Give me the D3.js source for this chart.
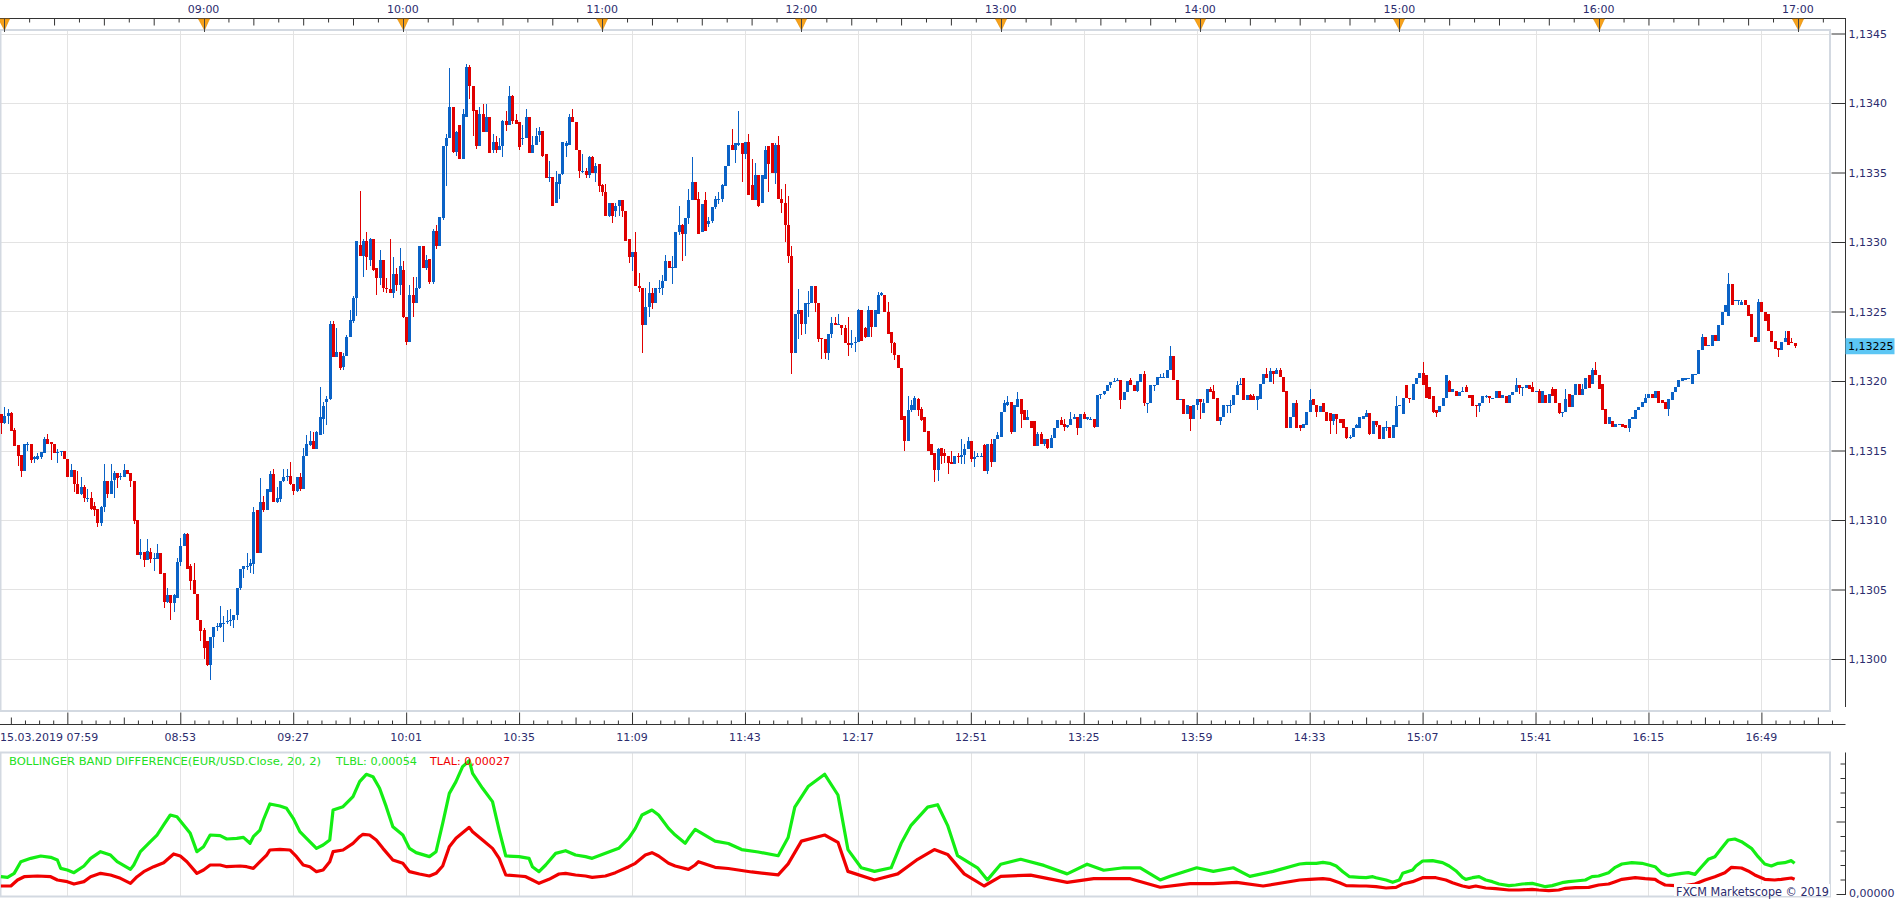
<!DOCTYPE html>
<html>
<head>
<meta charset="utf-8">
<script src="https://cdn.jsdelivr.net/npm/d3@7"></script>
<style>
  html, body { margin: 0; padding: 0; background: #fff; }
  svg { display: block; font-family: 'DejaVu Sans', Verdana, sans-serif; }
</style>
</head>
<body>
<div id="chart"></div>
<script>
// EUR/USD 1-minute candles, 15.03.2019 07:59 .. 17:00
var openPrices = [
1.13176,1.13170,1.13175,1.13177,1.13165,1.13154,1.13147,1.13135,1.13154,1.13155,
1.13144,1.13144,1.13145,1.13148,1.13158,1.13156,1.13155,1.13148,1.13149,1.13150,
1.13144,1.13131,1.13136,1.13126,1.13119,1.13124,1.13116,1.13116,1.13110,1.13108,
1.13098,1.13109,1.13128,1.13119,1.13129,1.13134,1.13131,1.13131,1.13136,1.13134,
1.13128,1.13100,1.13075,1.13077,1.13071,1.13077,1.13072,1.13072,1.13076,1.13062,
1.13041,1.13046,1.13040,1.13044,1.13070,1.13081,1.13090,1.13067,1.13057,1.13047,
1.13028,1.13021,1.13013,1.12996,1.13016,1.13023,1.13023,1.13025,1.13027,1.13027,
1.13028,1.13032,1.13051,1.13065,1.13067,1.13067,1.13068,1.13107,1.13076,1.13113,
1.13107,1.13120,1.13133,1.13113,1.13115,1.13128,1.13131,1.13132,1.13126,1.13121,
1.13131,1.13122,1.13146,1.13154,1.13157,1.13151,1.13161,1.13173,1.13185,1.13187,
1.13241,1.13217,1.13221,1.13210,1.13218,1.13232,1.13243,1.13260,1.13298,1.13290,
1.13301,1.13287,1.13302,1.13281,1.13274,1.13287,1.13267,1.13266,1.13263,1.13277,
1.13269,1.13280,1.13246,1.13228,1.13262,1.13256,1.13267,1.13297,1.13281,1.13288,
1.13271,1.13308,1.13297,1.13317,1.13369,1.13375,1.13397,1.13365,1.13384,1.13360,
1.13390,1.13426,1.13412,1.13395,1.13369,1.13392,1.13379,1.13390,1.13366,1.13372,
1.13366,1.13369,1.13387,1.13384,1.13405,1.13388,1.13386,1.13374,1.13375,1.13390,
1.13364,1.13370,1.13377,1.13380,1.13363,1.13346,1.13347,1.13328,1.13342,1.13349,
1.13369,1.13370,1.13390,1.13386,1.13366,1.13351,1.13351,1.13348,1.13361,1.13350,
1.13356,1.13341,1.13336,1.13319,1.13328,1.13322,1.13326,1.13330,1.13322,1.13302,
1.13289,1.13293,1.13268,1.13267,1.13240,1.13253,1.13263,1.13256,1.13267,1.13267,
1.13272,1.13286,1.13281,1.13281,1.13307,1.13312,1.13306,1.13317,1.13330,1.13343,
1.13331,1.13307,1.13330,1.13313,1.13315,1.13325,1.13330,1.13331,1.13340,1.13355,
1.13370,1.13366,1.13370,1.13371,1.13363,1.13372,1.13341,1.13330,1.13348,1.13328,
1.13345,1.13369,1.13371,1.13350,1.13370,1.13331,1.13328,1.13312,1.13290,1.13220,
1.13248,1.13251,1.13241,1.13256,1.13256,1.13268,1.13256,1.13231,1.13230,1.13220,
1.13234,1.13242,1.13240,1.13240,1.13238,1.13227,1.13226,1.13227,1.13228,1.13251,
1.13238,1.13232,1.13251,1.13239,1.13248,1.13262,1.13262,1.13250,1.13235,1.13227,
1.13219,1.13209,1.13175,1.13157,1.13179,1.13179,1.13187,1.13180,1.13174,1.13164,
1.13155,1.13148,1.13136,1.13152,1.13148,1.13146,1.13142,1.13140,1.13146,1.13145,
1.13147,1.13151,1.13157,1.13144,1.13145,1.13146,1.13154,1.13135,1.13155,1.13142,
1.13158,1.13160,1.13178,1.13183,1.13185,1.13163,1.13181,1.13187,1.13179,1.13172,
1.13171,1.13171,1.13153,1.13162,1.13155,1.13158,1.13152,1.13159,1.13166,1.13172,
1.13169,1.13167,1.13168,1.13173,1.13174,1.13166,1.13176,1.13173,1.13173,1.13173,
1.13167,1.13190,1.13191,1.13193,1.13197,1.13199,1.13200,1.13201,1.13186,1.13192,
1.13201,1.13197,1.13193,1.13199,1.13205,1.13184,1.13184,1.13197,1.13197,1.13203,
1.13203,1.13202,1.13208,1.13218,1.13201,1.13186,1.13187,1.13176,1.13182,1.13173,
1.13183,1.13187,1.13177,1.13184,1.13194,1.13193,1.13188,1.13171,1.13174,1.13183,
1.13183,1.13183,1.13190,1.13197,1.13202,1.13186,1.13190,1.13189,1.13186,1.13187,
1.13198,1.13205,1.13199,1.13207,1.13205,1.13208,1.13203,1.13193,1.13166,1.13174,
1.13184,1.13168,1.13166,1.13168,1.13178,1.13187,1.13183,1.13178,1.13184,1.13178,
1.13177,1.13171,1.13176,1.13173,1.13173,1.13167,1.13160,1.13160,1.13166,1.13166,
1.13173,1.13174,1.13177,1.13162,1.13171,1.13168,1.13158,1.13167,1.13167,1.13159,
1.13167,1.13182,1.13176,1.13197,1.13188,1.13186,1.13198,1.13202,1.13206,1.13204,
1.13196,1.13189,1.13179,1.13178,1.13182,1.13188,1.13200,1.13192,1.13193,1.13189,
1.13192,1.13196,1.13190,1.13190,1.13183,1.13182,1.13184,1.13189,1.13189,1.13188,
1.13188,1.13193,1.13188,1.13189,1.13184,1.13190,1.13192,1.13197,1.13195,1.13195,
1.13197,1.13196,1.13192,1.13193,1.13184,1.13190,1.13184,1.13194,1.13194,1.13184,
1.13177,1.13178,1.13191,1.13181,1.13190,1.13198,1.13190,1.13194,1.13204,1.13198,
1.13208,1.13204,1.13198,1.13180,1.13169,1.13171,1.13167,1.13168,1.13169,1.13168,
1.13166,1.13173,1.13173,1.13179,1.13181,1.13184,1.13188,1.13191,1.13188,1.13193,
1.13186,1.13185,1.13180,1.13186,1.13192,1.13196,1.13200,1.13201,1.13202,1.13198,
1.13205,1.13205,1.13222,1.13232,1.13225,1.13225,1.13233,1.13229,1.13240,1.13250,
1.13247,1.13270,1.13258,1.13258,1.13255,1.13258,1.13255,1.13248,1.13232,1.13228,
1.13257,1.13250,1.13248,1.13236,1.13229,1.13224,1.13222,1.13228,1.13236,1.13228,1.13227
]
var highPrices = [
1.13176,1.13181,1.13180,1.13178,1.13166,1.13154,1.13147,1.13155,1.13156,1.13155,
1.13146,1.13148,1.13149,1.13160,1.13162,1.13156,1.13155,1.13151,1.13150,1.13150,
1.13144,1.13140,1.13136,1.13135,1.13131,1.13125,1.13122,1.13120,1.13113,1.13108,
1.13110,1.13140,1.13128,1.13140,1.13135,1.13134,1.13134,1.13140,1.13136,1.13134,
1.13128,1.13100,1.13086,1.13077,1.13086,1.13080,1.13076,1.13083,1.13076,1.13062,
1.13051,1.13046,1.13047,1.13073,1.13087,1.13091,1.13091,1.13068,1.13069,1.13047,
1.13028,1.13022,1.13013,1.13016,1.13023,1.13026,1.13038,1.13031,1.13035,1.13036,
1.13032,1.13051,1.13065,1.13067,1.13076,1.13072,1.13109,1.13107,1.13130,1.13117,
1.13122,1.13135,1.13137,1.13124,1.13128,1.13137,1.13137,1.13142,1.13126,1.13131,
1.13134,1.13152,1.13161,1.13164,1.13163,1.13164,1.13196,1.13185,1.13189,1.13243,
1.13243,1.13238,1.13221,1.13220,1.13233,1.13251,1.13261,1.13301,1.13337,1.13302,
1.13307,1.13303,1.13302,1.13281,1.13294,1.13287,1.13274,1.13302,1.13289,1.13281,
1.13296,1.13286,1.13246,1.13269,1.13275,1.13275,1.13297,1.13297,1.13291,1.13288,
1.13309,1.13312,1.13318,1.13369,1.13378,1.13425,1.13397,1.13380,1.13384,1.13396,
1.13428,1.13427,1.13412,1.13395,1.13397,1.13399,1.13399,1.13390,1.13378,1.13376,
1.13375,1.13388,1.13394,1.13412,1.13406,1.13392,1.13386,1.13384,1.13396,1.13390,
1.13376,1.13382,1.13383,1.13380,1.13363,1.13358,1.13347,1.13351,1.13349,1.13372,
1.13373,1.13392,1.13396,1.13386,1.13366,1.13363,1.13353,1.13362,1.13362,1.13357,
1.13356,1.13342,1.13342,1.13328,1.13328,1.13328,1.13330,1.13330,1.13322,1.13302,
1.13293,1.13307,1.13278,1.13267,1.13267,1.13271,1.13267,1.13267,1.13273,1.13276,
1.13291,1.13286,1.13290,1.13307,1.13326,1.13313,1.13317,1.13338,1.13361,1.13343,
1.13336,1.13327,1.13336,1.13318,1.13325,1.13333,1.13336,1.13342,1.13355,1.13370,
1.13381,1.13371,1.13394,1.13371,1.13372,1.13378,1.13360,1.13357,1.13348,1.13348,
1.13369,1.13369,1.13371,1.13371,1.13376,1.13338,1.13342,1.13333,1.13297,1.13248,
1.13266,1.13251,1.13256,1.13265,1.13268,1.13268,1.13256,1.13231,1.13230,1.13234,
1.13246,1.13246,1.13248,1.13240,1.13240,1.13246,1.13237,1.13232,1.13252,1.13251,
1.13239,1.13254,1.13251,1.13251,1.13264,1.13264,1.13262,1.13257,1.13235,1.13228,
1.13219,1.13209,1.13175,1.13189,1.13186,1.13189,1.13188,1.13181,1.13174,1.13164,
1.13155,1.13148,1.13152,1.13152,1.13151,1.13146,1.13150,1.13146,1.13148,1.13158,
1.13155,1.13160,1.13157,1.13150,1.13148,1.13148,1.13155,1.13155,1.13158,1.13158,
1.13163,1.13178,1.13186,1.13189,1.13185,1.13183,1.13192,1.13187,1.13179,1.13179,
1.13171,1.13171,1.13163,1.13163,1.13158,1.13158,1.13161,1.13166,1.13172,1.13174,
1.13173,1.13168,1.13178,1.13176,1.13174,1.13176,1.13178,1.13174,1.13174,1.13173,
1.13190,1.13191,1.13193,1.13197,1.13199,1.13202,1.13202,1.13201,1.13192,1.13200,
1.13202,1.13197,1.13200,1.13205,1.13207,1.13184,1.13197,1.13197,1.13203,1.13205,
1.13206,1.13208,1.13225,1.13218,1.13201,1.13187,1.13187,1.13183,1.13182,1.13183,
1.13187,1.13187,1.13187,1.13194,1.13196,1.13197,1.13188,1.13174,1.13183,1.13183,
1.13186,1.13190,1.13200,1.13202,1.13202,1.13190,1.13191,1.13191,1.13189,1.13198,
1.13205,1.13209,1.13209,1.13207,1.13209,1.13209,1.13203,1.13193,1.13174,1.13184,
1.13186,1.13168,1.13169,1.13178,1.13194,1.13187,1.13183,1.13182,1.13184,1.13178,
1.13177,1.13176,1.13176,1.13173,1.13173,1.13167,1.13161,1.13166,1.13169,1.13174,
1.13175,1.13179,1.13177,1.13171,1.13171,1.13168,1.13167,1.13171,1.13167,1.13168,
1.13189,1.13183,1.13188,1.13197,1.13188,1.13198,1.13202,1.13206,1.13214,1.13204,
1.13196,1.13189,1.13179,1.13182,1.13188,1.13204,1.13201,1.13194,1.13193,1.13192,
1.13196,1.13197,1.13190,1.13190,1.13183,1.13184,1.13189,1.13190,1.13189,1.13188,
1.13193,1.13193,1.13190,1.13189,1.13190,1.13192,1.13202,1.13197,1.13196,1.13197,
1.13197,1.13199,1.13193,1.13194,1.13193,1.13190,1.13191,1.13196,1.13194,1.13184,
1.13178,1.13194,1.13191,1.13190,1.13198,1.13198,1.13198,1.13202,1.13204,1.13209,
1.13214,1.13204,1.13198,1.13180,1.13174,1.13171,1.13169,1.13169,1.13169,1.13168,
1.13173,1.13174,1.13179,1.13181,1.13185,1.13191,1.13191,1.13191,1.13193,1.13193,
1.13186,1.13185,1.13187,1.13192,1.13196,1.13201,1.13202,1.13202,1.13202,1.13205,
1.13205,1.13222,1.13234,1.13232,1.13226,1.13233,1.13233,1.13240,1.13250,1.13255,
1.13278,1.13270,1.13258,1.13258,1.13258,1.13258,1.13255,1.13248,1.13232,1.13259,
1.13257,1.13250,1.13248,1.13236,1.13229,1.13224,1.13228,1.13236,1.13236,1.13231,1.13227
]
var lowPrices = [
1.13162,1.13169,1.13169,1.13164,1.13153,1.13139,1.13131,1.13135,1.13150,1.13141,
1.13141,1.13143,1.13144,1.13148,1.13155,1.13143,1.13148,1.13141,1.13146,1.13144,
1.13131,1.13131,1.13120,1.13119,1.13118,1.13113,1.13113,1.13107,1.13103,1.13095,
1.13096,1.13106,1.13116,1.13119,1.13116,1.13123,1.13129,1.13131,1.13133,1.13124,
1.13097,1.13075,1.13072,1.13066,1.13071,1.13069,1.13063,1.13072,1.13061,1.13037,
1.13040,1.13028,1.13034,1.13044,1.13067,1.13081,1.13065,1.13050,1.13047,1.13028,
1.13013,1.13000,1.12995,1.12985,1.13008,1.13020,1.13022,1.13012,1.13025,1.13024,
1.13022,1.13028,1.13050,1.13058,1.13064,1.13062,1.13061,1.13076,1.13076,1.13106,
1.13107,1.13120,1.13113,1.13112,1.13113,1.13127,1.13128,1.13125,1.13118,1.13120,
1.13121,1.13122,1.13146,1.13153,1.13151,1.13151,1.13161,1.13162,1.13168,1.13186,
1.13217,1.13217,1.13208,1.13208,1.13218,1.13232,1.13242,1.13247,1.13290,1.13275,
1.13280,1.13283,1.13279,1.13262,1.13269,1.13264,1.13263,1.13263,1.13260,1.13265,
1.13262,1.13245,1.13226,1.13228,1.13246,1.13256,1.13266,1.13281,1.13280,1.13270,
1.13270,1.13295,1.13297,1.13316,1.13340,1.13375,1.13364,1.13362,1.13360,1.13360,
1.13390,1.13403,1.13376,1.13367,1.13369,1.13379,1.13379,1.13364,1.13364,1.13364,
1.13366,1.13361,1.13380,1.13384,1.13385,1.13385,1.13366,1.13370,1.13375,1.13364,
1.13364,1.13370,1.13372,1.13361,1.13346,1.13343,1.13326,1.13328,1.13331,1.13348,
1.13361,1.13370,1.13386,1.13366,1.13346,1.13350,1.13346,1.13346,1.13350,1.13343,
1.13336,1.13333,1.13319,1.13318,1.13314,1.13318,1.13319,1.13318,1.13301,1.13285,
1.13279,1.13268,1.13264,1.13220,1.13240,1.13246,1.13252,1.13256,1.13263,1.13262,
1.13272,1.13281,1.13270,1.13281,1.13305,1.13286,1.13290,1.13313,1.13330,1.13330,
1.13306,1.13307,1.13308,1.13311,1.13314,1.13324,1.13327,1.13329,1.13340,1.13355,
1.13366,1.13357,1.13369,1.13343,1.13360,1.13334,1.13330,1.13330,1.13325,1.13328,
1.13345,1.13336,1.13350,1.13342,1.13331,1.13321,1.13300,1.13285,1.13205,1.13220,
1.13230,1.13233,1.13234,1.13246,1.13256,1.13250,1.13228,1.13216,1.13216,1.13215,
1.13231,1.13240,1.13240,1.13233,1.13227,1.13218,1.13224,1.13221,1.13228,1.13229,
1.13231,1.13232,1.13232,1.13239,1.13248,1.13261,1.13250,1.13234,1.13220,1.13215,
1.13209,1.13172,1.13150,1.13157,1.13178,1.13179,1.13175,1.13171,1.13163,1.13150,
1.13147,1.13127,1.13128,1.13140,1.13141,1.13133,1.13140,1.13140,1.13141,1.13140,
1.13140,1.13151,1.13142,1.13138,1.13145,1.13145,1.13135,1.13133,1.13138,1.13142,
1.13158,1.13160,1.13178,1.13182,1.13162,1.13163,1.13181,1.13166,1.13172,1.13172,
1.13166,1.13153,1.13153,1.13155,1.13153,1.13151,1.13152,1.13159,1.13166,1.13168,
1.13164,1.13166,1.13168,1.13173,1.13161,1.13166,1.13173,1.13172,1.13172,1.13166,
1.13167,1.13187,1.13190,1.13193,1.13195,1.13199,1.13200,1.13180,1.13186,1.13192,
1.13197,1.13193,1.13192,1.13199,1.13182,1.13177,1.13184,1.13193,1.13197,1.13203,
1.13203,1.13202,1.13208,1.13201,1.13186,1.13186,1.13176,1.13176,1.13164,1.13173,
1.13179,1.13173,1.13177,1.13184,1.13192,1.13187,1.13171,1.13168,1.13174,1.13177,
1.13177,1.13183,1.13190,1.13197,1.13186,1.13186,1.13186,1.13186,1.13179,1.13187,
1.13198,1.13202,1.13199,1.13198,1.13205,1.13203,1.13192,1.13166,1.13166,1.13174,
1.13166,1.13164,1.13166,1.13168,1.13178,1.13183,1.13174,1.13178,1.13178,1.13171,
1.13162,1.13168,1.13162,1.13170,1.13166,1.13158,1.13158,1.13160,1.13166,1.13166,
1.13173,1.13174,1.13161,1.13162,1.13167,1.13158,1.13158,1.13164,1.13159,1.13159,
1.13167,1.13182,1.13176,1.13188,1.13184,1.13186,1.13198,1.13202,1.13197,1.13188,
1.13187,1.13177,1.13174,1.13178,1.13182,1.13188,1.13192,1.13192,1.13189,1.13189,
1.13192,1.13192,1.13188,1.13182,1.13174,1.13178,1.13184,1.13188,1.13184,1.13188,
1.13188,1.13188,1.13188,1.13184,1.13184,1.13190,1.13192,1.13191,1.13189,1.13195,
1.13194,1.13192,1.13192,1.13184,1.13184,1.13184,1.13184,1.13189,1.13184,1.13176,
1.13174,1.13178,1.13181,1.13181,1.13190,1.13190,1.13190,1.13194,1.13195,1.13198,
1.13204,1.13194,1.13179,1.13169,1.13169,1.13167,1.13167,1.13168,1.13167,1.13166,
1.13163,1.13173,1.13173,1.13179,1.13181,1.13184,1.13188,1.13188,1.13188,1.13184,
1.13184,1.13180,1.13175,1.13186,1.13192,1.13196,1.13200,1.13201,1.13202,1.13198,
1.13205,1.13205,1.13222,1.13225,1.13225,1.13225,1.13229,1.13229,1.13240,1.13250,
1.13247,1.13255,1.13258,1.13255,1.13255,1.13255,1.13247,1.13232,1.13228,1.13228,
1.13250,1.13243,1.13236,1.13228,1.13223,1.13217,1.13222,1.13228,1.13226,1.13227,1.13224
]
var closePrices = [
1.13170,1.13175,1.13177,1.13164,1.13153,1.13146,1.13135,1.13155,1.13155,1.13143,
1.13145,1.13146,1.13149,1.13158,1.13155,1.13155,1.13148,1.13149,1.13150,1.13144,
1.13131,1.13136,1.13126,1.13119,1.13124,1.13116,1.13116,1.13108,1.13107,1.13098,
1.13109,1.13128,1.13119,1.13128,1.13134,1.13130,1.13132,1.13136,1.13133,1.13128,
1.13099,1.13075,1.13077,1.13071,1.13078,1.13072,1.13073,1.13076,1.13061,1.13041,
1.13046,1.13040,1.13046,1.13070,1.13081,1.13090,1.13065,1.13056,1.13047,1.13028,
1.13020,1.13008,1.12996,1.13016,1.13023,1.13024,1.13026,1.13026,1.13027,1.13028,
1.13032,1.13051,1.13065,1.13067,1.13067,1.13069,1.13106,1.13076,1.13113,1.13107,
1.13122,1.13133,1.13113,1.13116,1.13128,1.13131,1.13132,1.13126,1.13121,1.13131,
1.13122,1.13146,1.13155,1.13157,1.13151,1.13163,1.13174,1.13182,1.13187,1.13241,
1.13217,1.13221,1.13209,1.13218,1.13232,1.13244,1.13260,1.13301,1.13290,1.13301,
1.13289,1.13302,1.13280,1.13274,1.13287,1.13267,1.13266,1.13263,1.13277,1.13269,
1.13283,1.13246,1.13228,1.13262,1.13256,1.13267,1.13297,1.13281,1.13287,1.13271,
1.13308,1.13297,1.13318,1.13369,1.13375,1.13397,1.13365,1.13379,1.13360,1.13392,
1.13426,1.13412,1.13394,1.13369,1.13392,1.13379,1.13390,1.13364,1.13372,1.13366,
1.13369,1.13387,1.13384,1.13405,1.13387,1.13385,1.13368,1.13375,1.13390,1.13364,
1.13370,1.13376,1.13380,1.13362,1.13346,1.13347,1.13326,1.13343,1.13349,1.13372,
1.13371,1.13390,1.13386,1.13366,1.13351,1.13351,1.13348,1.13361,1.13350,1.13355,
1.13340,1.13336,1.13319,1.13328,1.13319,1.13326,1.13330,1.13322,1.13301,1.13289,
1.13293,1.13268,1.13267,1.13240,1.13253,1.13263,1.13256,1.13267,1.13267,1.13272,
1.13286,1.13281,1.13282,1.13307,1.13312,1.13306,1.13317,1.13330,1.13343,1.13330,
1.13306,1.13327,1.13308,1.13315,1.13325,1.13331,1.13331,1.13341,1.13355,1.13370,
1.13366,1.13371,1.13371,1.13363,1.13372,1.13334,1.13330,1.13348,1.13326,1.13348,
1.13366,1.13356,1.13350,1.13370,1.13331,1.13328,1.13312,1.13290,1.13220,1.13248,
1.13251,1.13241,1.13256,1.13256,1.13268,1.13256,1.13230,1.13230,1.13220,1.13234,
1.13242,1.13240,1.13241,1.13238,1.13227,1.13226,1.13227,1.13228,1.13251,1.13229,
1.13232,1.13251,1.13239,1.13251,1.13262,1.13263,1.13250,1.13234,1.13227,1.13219,
1.13209,1.13172,1.13157,1.13179,1.13183,1.13188,1.13179,1.13172,1.13163,1.13150,
1.13147,1.13136,1.13151,1.13146,1.13146,1.13141,1.13140,1.13146,1.13145,1.13147,
1.13151,1.13157,1.13144,1.13145,1.13146,1.13146,1.13135,1.13155,1.13142,1.13158,
1.13161,1.13178,1.13184,1.13185,1.13163,1.13183,1.13187,1.13176,1.13172,1.13174,
1.13166,1.13153,1.13162,1.13155,1.13158,1.13152,1.13159,1.13166,1.13172,1.13168,
1.13167,1.13168,1.13173,1.13174,1.13166,1.13176,1.13173,1.13174,1.13173,1.13167,
1.13190,1.13191,1.13193,1.13197,1.13199,1.13200,1.13201,1.13186,1.13192,1.13200,
1.13197,1.13193,1.13200,1.13205,1.13184,1.13184,1.13197,1.13197,1.13203,1.13203,
1.13203,1.13208,1.13218,1.13201,1.13186,1.13187,1.13176,1.13183,1.13173,1.13183,
1.13187,1.13185,1.13184,1.13194,1.13192,1.13187,1.13171,1.13174,1.13183,1.13183,
1.13183,1.13190,1.13197,1.13198,1.13186,1.13190,1.13186,1.13186,1.13189,1.13198,
1.13205,1.13202,1.13207,1.13205,1.13208,1.13203,1.13192,1.13166,1.13174,1.13184,
1.13166,1.13166,1.13169,1.13178,1.13186,1.13183,1.13178,1.13182,1.13178,1.13171,
1.13171,1.13176,1.13173,1.13170,1.13166,1.13159,1.13160,1.13166,1.13168,1.13174,
1.13175,1.13177,1.13162,1.13171,1.13168,1.13158,1.13167,1.13167,1.13159,1.13168,
1.13182,1.13183,1.13188,1.13188,1.13187,1.13198,1.13202,1.13206,1.13197,1.13188,
1.13187,1.13178,1.13177,1.13182,1.13188,1.13204,1.13192,1.13194,1.13189,1.13192,
1.13193,1.13192,1.13188,1.13182,1.13182,1.13184,1.13189,1.13189,1.13188,1.13188,
1.13193,1.13188,1.13190,1.13184,1.13190,1.13192,1.13197,1.13195,1.13196,1.13197,
1.13194,1.13192,1.13193,1.13184,1.13193,1.13184,1.13191,1.13189,1.13184,1.13177,
1.13178,1.13187,1.13181,1.13190,1.13198,1.13190,1.13194,1.13202,1.13195,1.13208,
1.13204,1.13194,1.13179,1.13169,1.13174,1.13167,1.13169,1.13169,1.13167,1.13166,
1.13173,1.13174,1.13179,1.13181,1.13185,1.13188,1.13191,1.13188,1.13193,1.13184,
1.13184,1.13180,1.13187,1.13192,1.13196,1.13201,1.13202,1.13202,1.13202,1.13205,
1.13205,1.13222,1.13232,1.13225,1.13226,1.13233,1.13229,1.13240,1.13250,1.13255,
1.13270,1.13255,1.13258,1.13258,1.13257,1.13255,1.13247,1.13232,1.13228,1.13257,
1.13250,1.13243,1.13236,1.13228,1.13223,1.13222,1.13228,1.13231,1.13226,1.13227,1.13225
]

// Bollinger band difference panel, read at sample minutes (minutes after 07:59)
var tlblMinute = [0,2,4,6,9,12,15,17,18,20,22,25,27,30,33,35,39,40,42,45,47,49,51,53,55,57,59,61,63,66,68,71,73,75,76,78,79,81,84,86,88,90,92,95,97,99,100,103,106,108,110,112,114,116,118,121,123,125,129,131,133,135,137,139,141,142,145,148,150,152,156,159,160,162,164,167,170,173,176,178,182,186,189,191,193,196,198,201,203,206,207,209,
215,219,223,228,234,237,239,243,248,252,255,259,263,268,271,274,279,282,285,288,294,297,301,307,314,321,327,332,338,343,349,352,360,365,371,376,383,
391,393,396,398,400,402,404,406,409,411,413,414,417,419,421,422,425,426,428,431,434,436,438,440,441,443,445,447,449,451,454,456,458,461,463,465,467,470,472,474,477,479,481,484,486,488,491,494,496,498,500,502,504,506,508,510,512,514,516,518,520,522,524,527,529,531,533,535,537,539,540]
var tlblValue = [0.000298,0.000287,0.000356,0.000557,0.000615,0.000655,0.000632,0.000586,0.000442,0.000414,0.000368,0.000483,0.000615,0.00073,0.000672,0.000557,0.000425,0.0005,0.00073,0.000902,0.001017,0.00119,0.001362,0.001333,0.00119,0.001046,0.00073,0.000816,0.001017,0.001006,0.000948,0.00096,0.000977,0.000874,0.000988,0.001103,0.001276,0.001552,0.001517,0.001477,0.001305,0.001075,0.00096,0.000787,0.000845,0.000931,0.001448,0.001506,0.001678,0.001937,0.002063,0.002023,0.001822,0.001506,0.001161,0.001017,0.000787,0.000713,0.000644,0.00073,0.001218,0.001735,0.001937,0.002195,0.002299,0.00208,0.001822,0.001592,0.001103,0.000655,0.000644,0.000615,0.000471,0.000385,0.0005,0.000701,0.000747,0.000672,0.000644,0.000615,0.000701,0.000787,0.00096,0.001132,0.001362,0.001448,0.001362,0.001132,0.001017,0.000874,0.00096,0.001115,
0.000912,0.00087,0.000766,0.000724,0.00066,0.000974,0.001498,0.001853,0.002064,0.001707,0.000766,0.000452,0.00039,0.000452,0.00087,0.001184,0.001498,0.00154,0.001184,0.00066,0.000452,0.000243,0.000514,0.000598,0.000493,0.000347,0.000514,0.00041,0.000452,0.000452,0.000243,0.000305,0.000452,0.00039,0.000452,0.000305,0.00039,
0.000517,0.000529,0.000529,0.000546,0.000529,0.000483,0.000385,0.000299,0.000287,0.000281,0.000299,0.000281,0.000241,0.000201,0.000241,0.000356,0.000414,0.000483,0.000569,0.000575,0.00054,0.000483,0.000402,0.000287,0.000253,0.000281,0.000299,0.000241,0.000213,0.000172,0.000144,0.000155,0.000172,0.000184,0.000155,0.000126,0.000144,0.000195,0.000213,0.000224,0.000241,0.000299,0.00031,0.000368,0.00046,0.000517,0.00054,0.000529,0.0005,0.000471,0.000356,0.000316,0.000339,0.000356,0.000368,0.000339,0.000471,0.000598,0.000644,0.000787,0.000931,0.000948,0.000902,0.000787,0.000644,0.000517,0.000483,0.000529,0.00054,0.000575,0.000529]
var tlalMinute = [0,3,5,7,11,15,17,20,22,25,27,30,33,36,39,41,43,46,49,52,54,56,59,61,63,66,68,72,74,76,78,80,81,84,87,89,91,93,95,97,99,100,103,106,108,109,111,113,115,118,121,123,126,129,131,133,135,137,141,142,145,148,150,152,156,158,160,162,165,168,170,173,176,178,182,185,189,191,194,196,198,201,203,207,209,210,
215,219,226,234,237,241,248,252,255,263,270,276,281,285,290,296,301,310,321,329,340,349,358,365,372,380,
391,394,398,400,403,405,409,411,414,417,420,422,425,428,432,435,437,440,442,444,447,450,454,457,461,463,466,469,471,474,478,481,484,486,488,492,495,498,499,501,504,507,510,513,516,519,521,524,526,528,531,534,536,539,540]
var tlalValue = [0.000138,0.000138,0.000241,0.000298,0.00031,0.000298,0.000241,0.000213,0.000172,0.000213,0.000298,0.000356,0.000328,0.00027,0.000184,0.000298,0.000385,0.000471,0.00054,0.00069,0.000655,0.000557,0.000356,0.000414,0.0005,0.0005,0.000471,0.000483,0.000471,0.000442,0.000557,0.000672,0.000759,0.00077,0.000759,0.000644,0.0005,0.000471,0.000385,0.000414,0.000557,0.00073,0.000759,0.000874,0.000988,0.001029,0.001017,0.000931,0.000787,0.000586,0.000529,0.000385,0.000345,0.00031,0.000356,0.000483,0.000816,0.00096,0.001149,0.001075,0.000931,0.000787,0.000615,0.000328,0.00031,0.000298,0.000241,0.000184,0.000253,0.000345,0.000356,0.000328,0.00031,0.000287,0.00031,0.000368,0.000471,0.000529,0.000672,0.000713,0.000655,0.000529,0.000483,0.000425,0.0005,0.000557,
0.00046,0.00044,0.00038,0.00033,0.00052,0.000912,0.001017,0.000891,0.00039,0.000241,0.000347,0.000598,0.000766,0.000683,0.000347,0.000138,0.000305,0.000326,0.0002,0.000264,0.000264,0.000117,0.000179,0.000179,0.0002,0.000138,
0.000241,0.000253,0.000264,0.000253,0.000195,0.000144,0.000138,0.000138,0.000126,0.000103,0.000115,0.000172,0.000213,0.000281,0.000281,0.000241,0.000195,0.000138,0.000115,0.000138,0.000103,0.000092,0.000069,0.000069,0.00008,0.000069,0.000057,0.000069,0.000098,0.000109,0.000115,0.000155,0.000172,0.000213,0.000253,0.000281,0.000264,0.000253,0.000213,0.000155,0.000144,0.000144,0.000172,0.000241,0.000299,0.000368,0.00046,0.000448,0.000397,0.000328,0.000253,0.000241,0.000253,0.000276,0.000253]

// axis labels
var hourLabels = ['09:00','10:00','11:00','12:00','13:00','14:00','15:00','16:00','17:00']
var timeLabels = ['08:53','09:27','10:01','10:35','11:09','11:43','12:17','12:51','13:25','13:59','14:33','15:07','15:41','16:15','16:49']
var priceTicks = [1.1300,1.1305,1.1310,1.1315,1.1320,1.1325,1.1330,1.1335,1.1340,1.1345]
var lastPrice = 1.13225
var tlblLast = 0.00054, tlalLast = 0.00027

var width = 1903, height = 900
var plotTop = 31, plotBottom = 711, plotRight = 1830, axisX = 1845.5
var indTop = 752.5, indBottom = 896.5
var upColor = '#0a62c6', downColor = '#e00000'
var textColor = '#2c2c6e', gridColor = '#e3e3e3', frameColor = '#d3d9e1'

var svg = d3.select('#chart').append('svg')
	.attr('width', width)
	.attr('height', height)

var t0 = new Date(2019, 2, 15, 7, 59)
var parseHM = function(s) {
	var p = s.split(':')
	return new Date(2019, 2, 15, +p[0], +p[1])
}
var times = closePrices.map(function(d, i) { return d3.timeMinute.offset(t0, i) })

var xScale = d3.scaleTime()
	.domain([t0, d3.timeMinute.offset(t0, 541)])
	.range([0.9, 0.9 + 541 * 3.3217])

var yScale = d3.scaleLinear()
	.domain([1.1300, 1.1345])
	.range([659, 33.5])

var yInd = d3.scaleLinear()
	.domain([0, 0.0025])
	.range([894, 749])

var locale = d3.formatLocale({decimal: ',', thousands: '.', grouping: [3], currency: ['', '']})
var fmt4 = locale.format('.4f'), fmt5 = locale.format('.5f')

// grid times: every 34 min from 08:19
var gridTimes = [parseHM('08:19')].concat(timeLabels.map(parseHM))

// ---------- main price panel ----------
var main = svg.append('g')

main.append('g').selectAll('line')
	.data(gridTimes).enter().append('line')
	.attr('x1', function(d) { return Math.round(xScale(d)) + 0.5 })
	.attr('x2', function(d) { return Math.round(xScale(d)) + 0.5 })
	.attr('y1', plotTop).attr('y2', plotBottom)
	.attr('stroke', gridColor)

main.append('g').selectAll('line')
	.data(priceTicks).enter().append('line')
	.attr('x1', 0).attr('x2', plotRight)
	.attr('y1', function(d) { return Math.round(yScale(d)) + 0.5 })
	.attr('y2', function(d) { return Math.round(yScale(d)) + 0.5 })
	.attr('stroke', gridColor)

main.append('rect')
	.attr('x', 0.5).attr('y', plotTop - 1)
	.attr('width', plotRight - 0.5).attr('height', plotBottom - plotTop + 1)
	.attr('fill', 'none').attr('stroke', frameColor).attr('stroke-width', 2)

// candles
var candles = main.append('g').attr('shape-rendering', 'crispEdges')
	.selectAll('g').data(closePrices).enter().append('g')

candles.append('line')
	.attr('x1', function(d, i) { return Math.round(xScale(times[i])) + 0.5 })
	.attr('x2', function(d, i) { return Math.round(xScale(times[i])) + 0.5 })
	.attr('y1', function(d, i) { return yScale(highPrices[i]) })
	.attr('y2', function(d, i) { return yScale(lowPrices[i]) })
	.attr('stroke', function(d, i) { return d >= openPrices[i] ? upColor : downColor })

candles.append('rect')
	.attr('x', function(d, i) { return Math.round(xScale(times[i])) - 0.6 })
	.attr('width', 2.4)
	.attr('y', function(d, i) { return yScale(Math.max(d, openPrices[i])) })
	.attr('height', function(d, i) { return Math.max(1, Math.abs(yScale(d) - yScale(openPrices[i]))) })
	.attr('fill', function(d, i) { return d >= openPrices[i] ? upColor : downColor })

// right price axis
var minorPrices = d3.range(0, 100).map(function(k) { return 1.1297 + k * 0.00005 })
	.filter(function(p) { return yScale(p) > 19 && yScale(p) < 707 })

var axisG = svg.append('g').attr('transform', 'translate(' + axisX + ',0)')
axisG.call(d3.axisRight(yScale).tickValues(minorPrices).tickSize(-7).tickSizeOuter(0).tickFormat(''))
axisG.call(d3.axisRight(yScale).tickValues(priceTicks).tickSize(-14).tickSizeOuter(0).tickPadding(3).tickFormat(fmt4))
axisG.selectAll('.domain').remove()
axisG.selectAll('line').attr('stroke', '#333')
axisG.selectAll('text').attr('font-size', '11px').attr('fill', textColor)
	.attr('font-family', "'DejaVu Sans', Verdana, sans-serif")
svg.append('line').attr('x1', axisX).attr('x2', axisX).attr('y1', 18).attr('y2', 707).attr('stroke', '#333')

// last price box
var lp = svg.append('g').attr('transform', 'translate(' + axisX + ',' + yScale(lastPrice) + ')')
lp.append('rect').attr('x', 0).attr('y', -8).attr('width', 49).attr('height', 16).attr('fill', '#5cc6f4')
lp.append('text').attr('x', 2.5).attr('dy', '0.34em').attr('font-size', '11px').attr('fill', '#000')
	.text(fmt5(lastPrice))

// ---------- top time axis ----------
var t800 = new Date(2019, 2, 15, 8, 0)
var topTicks = d3.range(-1, 74).map(function(k) { return new Date(+t800 + k * 450000) })
	.filter(function(d) { return xScale(d) >= 0 && xScale(d) <= axisX })
var topLong = topTicks.filter(function(d) { return d.getMinutes() % 15 === 0 && d.getSeconds() === 0 })
var topShort = topTicks.filter(function(d) { return topLong.indexOf(d) === -1 })

var topAxis = svg.append('g').attr('transform', 'translate(0,18.5)')
topAxis.append('g').call(d3.axisBottom(xScale).tickValues(topLong).tickSize(7).tickSizeOuter(0).tickFormat(''))
topAxis.append('g').call(d3.axisBottom(xScale).tickValues(topShort).tickSize(4).tickSizeOuter(0).tickFormat(''))
topAxis.selectAll('.domain').remove()
topAxis.selectAll('line').attr('stroke', '#333')
topAxis.append('line').attr('x1', 0).attr('x2', axisX).attr('stroke', '#333')

var hourTimes = [t800].concat(hourLabels.map(parseHM))
var markers = svg.append('g').selectAll('g').data(hourTimes).enter().append('g')
	.attr('transform', function(d) { return 'translate(' + Math.round(xScale(d)) + ',0)' })
markers.append('path').attr('d', 'M-5.5,19 L5.5,19 L0.5,30 Z')
	.attr('fill', '#f7a21b').attr('stroke', '#e08a00').attr('stroke-width', 0.6)
markers.append('line').attr('x1', 0.5).attr('x2', 0.5).attr('y1', 19).attr('y2', 32).attr('stroke', '#444')

svg.append('g').selectAll('text').data(hourLabels).enter().append('text')
	.attr('x', function(d) { return xScale(parseHM(d)) })
	.attr('y', 12.5)
	.attr('text-anchor', 'middle')
	.attr('font-size', '11px').attr('fill', textColor)
	.text(function(d) { return d })

// ---------- bottom time axis ----------
var subTimes = d3.range(-4, 133).map(function(k) { return new Date(+gridTimes[0] + k * 255000) })
	.filter(function(d) { return xScale(d) >= 0 && xScale(d) <= axisX })
var subMid = subTimes.filter(function(d, k) { return ((Math.round((d - gridTimes[0]) / 255000)) % 8 + 8) % 8 === 4 })
var subShort = subTimes.filter(function(d) { var m = ((Math.round((d - gridTimes[0]) / 255000)) % 8 + 8) % 8; return m !== 0 && m !== 4 })

var botAxis = svg.append('g').attr('transform', 'translate(0,724.5)')
botAxis.append('g').call(d3.axisBottom(xScale).tickValues(gridTimes).tickSize(-12).tickSizeOuter(0).tickFormat(''))
botAxis.append('g').call(d3.axisBottom(xScale).tickValues(subMid).tickSize(-7).tickSizeOuter(0).tickFormat(''))
botAxis.append('g').call(d3.axisBottom(xScale).tickValues(subShort).tickSize(-4).tickSizeOuter(0).tickFormat(''))
botAxis.selectAll('.domain').remove()
botAxis.selectAll('line').attr('stroke', '#333')
botAxis.append('line').attr('x1', 0).attr('x2', axisX).attr('stroke', '#333')

svg.append('g').selectAll('text').data(timeLabels).enter().append('text')
	.attr('x', function(d) { return xScale(parseHM(d)) })
	.attr('y', 741)
	.attr('text-anchor', 'middle')
	.attr('font-size', '11px').attr('fill', textColor)
	.text(function(d) { return d })

svg.append('text').attr('x', 0).attr('y', 741)
	.attr('font-size', '11px').attr('fill', textColor)
	.text(d3.timeFormat('%d.%m.%Y %H:%M')(t0))

// ---------- indicator panel ----------
var ind = svg.append('g')

ind.append('g').selectAll('line')
	.data(gridTimes).enter().append('line')
	.attr('x1', function(d) { return Math.round(xScale(d)) + 0.5 })
	.attr('x2', function(d) { return Math.round(xScale(d)) + 0.5 })
	.attr('y1', indTop).attr('y2', indBottom)
	.attr('stroke', gridColor)

ind.append('rect')
	.attr('x', 0.5).attr('y', indTop)
	.attr('width', plotRight - 0.5).attr('height', indBottom - indTop)
	.attr('fill', 'none').attr('stroke', frameColor).attr('stroke-width', 2)

svg.append('clipPath').attr('id', 'indClip').append('rect')
	.attr('x', 0).attr('y', indTop).attr('width', plotRight).attr('height', indBottom - indTop)

var tlblLine = d3.line()
	.x(function(d, i) { return xScale(d3.timeMinute.offset(t0, tlblMinute[i])) })
	.y(function(d) { return yInd(d) })
var tlalLine = d3.line()
	.x(function(d, i) { return xScale(d3.timeMinute.offset(t0, tlalMinute[i])) })
	.y(function(d) { return yInd(d) })

ind.append('path').datum(tlblValue)
	.attr('clip-path', 'url(#indClip)')
	.attr('d', tlblLine)
	.attr('fill', 'none').attr('stroke', '#14ee14').attr('stroke-width', 3.2).attr('stroke-linejoin', 'round')

ind.append('path').datum(tlalValue)
	.attr('clip-path', 'url(#indClip)')
	.attr('d', tlalLine)
	.attr('fill', 'none').attr('stroke', '#f00000').attr('stroke-width', 3.2).attr('stroke-linejoin', 'round')

// title
ind.append('text').attr('x', 9).attr('y', 765)
	.attr('font-size', '10.5px').attr('fill', '#22e022')
	.attr('textLength', 312).attr('lengthAdjust', 'spacingAndGlyphs')
	.text('BOLLINGER BAND DIFFERENCE(EUR/USD.Close, 20, 2)')
ind.append('text').attr('x', 336).attr('y', 765)
	.attr('font-size', '10.5px').attr('fill', '#22e022')
	.attr('textLength', 81).attr('lengthAdjust', 'spacingAndGlyphs')
	.text('TLBL: ' + fmt5(tlblLast))
ind.append('text').attr('x', 430).attr('y', 765)
	.attr('font-size', '10.5px').attr('fill', '#f00000')
	.attr('textLength', 80).attr('lengthAdjust', 'spacingAndGlyphs')
	.text('TLAL: ' + fmt5(tlalLast))

// indicator axis
var indTicks = d3.range(0, 10).map(function(k) { return k * 0.00025 })
var indAxis = svg.append('g').attr('transform', 'translate(' + axisX + ',0)')
indAxis.call(d3.axisRight(yInd).tickValues(indTicks).tickSize(-5).tickSizeOuter(0).tickFormat(''))
indAxis.selectAll('.domain').remove()
indAxis.selectAll('.tick').filter(function(d) { return d === 0 || Math.abs(d - 0.00125) < 1e-9 })
	.select('line').attr('x2', -9)
indAxis.selectAll('line').attr('stroke', '#333')
indAxis.append('line').attr('y1', indTop).attr('y2', 895).attr('stroke', '#333')
svg.append('text').attr('x', 1849).attr('y', 897)
	.attr('font-size', '11px').attr('fill', textColor)
	.text(fmt5(0))

// copyright box
svg.append('rect').attr('x', 1674).attr('y', 884).attr('width', 156).attr('height', 12).attr('fill', '#fff')
svg.append('text').attr('x', 1676).attr('y', 896)
	.attr('font-size', '11.5px').attr('fill', textColor)
	.attr('textLength', 153).attr('lengthAdjust', 'spacingAndGlyphs')
	.text('FXCM Marketscope \u00a9 2019')
</script>
</body>
</html>
